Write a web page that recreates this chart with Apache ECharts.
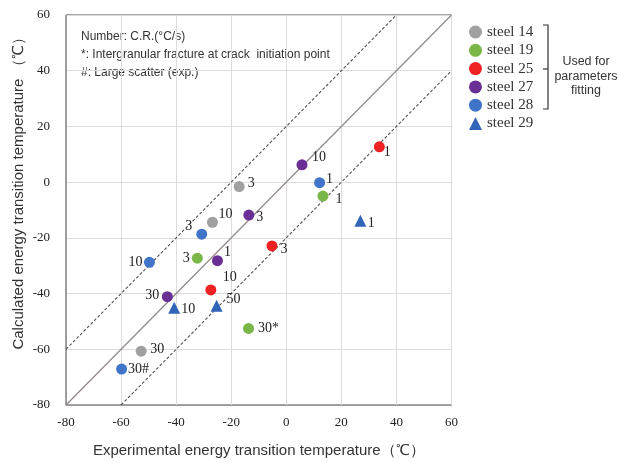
<!DOCTYPE html>
<html><head><meta charset="utf-8">
<script src="https://cdn.jsdelivr.net/npm/echarts@6/dist/echarts.min.js"></script>
<style>html,body{margin:0;padding:0;background:#fff}#c{width:619px;height:463px}</style>
</head><body><div id="c"></div>
<script>
const seriesNames = ['steel 14','steel 19','steel 25','steel 27','steel 28','steel 29'];
const xTicks = [-80,-60,-40,-20,0,20,40,60];
// [experimental, calculated, cooling-rate label]
const steel14 = [[-17.1,-1.6,'3'],[-26.8,-14.4,'10'],[-52.7,-60.7,'30']];
const steel19 = [[13.3,-5.0,'1'],[-32.3,-27.3,'3'],[-13.7,-52.5,'30*']];
const steel25 = [[33.8,12.7,'1'],[-5.2,-22.9,'3'],[-27.4,-38.7,'10']];
const steel27 = [[5.7,6.2,'10'],[-13.6,-11.8,'3'],[-25.0,-28.2,'1'],[-43.2,-41.1,'30']];
const steel28 = [[12.1,-0.2,'1'],[-30.7,-18.7,'3'],[-49.7,-28.8,'10'],[-59.8,-67.1,'30#']];
const steel29 = [[26.9,-13.9,'1'],[-40.7,-45.1,'10'],[-25.3,-44.4,'50']];
const lineEqual = [[-80,-80],[60,60]];
const lineUpper = [[-80,-60],[40,60]];
const lineLower = [[-60,-80],[60,40]];

// label placement (pixel offsets of label centre from the marker), styling only
const labelOffsets = [
  [[12,-3],[13,-8],[16,-2]],
  [[16,3],[-11,0],[20,0]],
  [[8,6],[12,3],[19,-13]],
  [[17,-8],[11,2],[10,-8],[-15,-1]],
  [[10,-3],[-13,-8],[-14,0],[17,0]],
  [[11,2],[14,2],[17,-7]]
];
const colors = ['#a0a0a0','#7ab648','#ee2222','#6a2f95','#3f74c8','#2f64b8'];
const symbols = ['circle','circle','circle','circle','circle','triangle'];
const allData = [steel14,steel19,steel25,steel27,steel28,steel29];

const chart = echarts.init(document.getElementById('c'));
const scatter = allData.map((d,i)=>({
  name: seriesNames[i], type:'scatter', symbol: symbols[i], symbolSize: i===5?12:11,
  itemStyle:{color:colors[i], opacity:1}, z:5,
  data: d.map((p,j)=>({value:[p[0],p[1]], label:{show:true, formatter:p[2], position:'inside',
    offset:labelOffsets[i][j], color:'#222', fontFamily:'Liberation Serif', fontSize:14}}))
}));
const refLine = (data, dashed) => ({type:'line', data, symbol:'none', silent:true, z:2,
  lineStyle:{color: dashed?'#5a4f4f':'#958a8a', width: dashed?1.1:1.3, type: dashed?[3,2]:'solid'}});

chart.setOption({
  animation:false,
  grid:{left:66, right:167.5, top:15, bottom:56.5, show:true, borderColor:'#444', borderWidth:1},
  legend:{data:seriesNames, orient:'vertical', left:464, top:19, itemGap:2.3, itemWidth:13, itemHeight:13,
    textStyle:{fontFamily:'Liberation Serif', fontSize:15, color:'#333', lineHeight:16}},
  xAxis:{type:'value', min:xTicks[0], max:xTicks[xTicks.length-1], interval:20,
    axisLine:{show:true, onZero:false, lineStyle:{color:'#999'}}, axisTick:{show:false},
    axisLabel:{fontFamily:'Liberation Serif', fontSize:13, color:'#222', margin:11},
    splitLine:{lineStyle:{color:'#dcdcdc'}},
    name:'Experimental energy transition temperature（℃）', nameLocation:'middle', nameGap:38,
    nameTextStyle:{fontFamily:'Liberation Sans', fontSize:15, color:'#333'}},
  yAxis:{type:'value', min:-80, max:60, interval:20,
    axisLine:{show:true, onZero:false, lineStyle:{color:'#999'}}, axisTick:{show:false},
    axisLabel:{fontFamily:'Liberation Serif', fontSize:13, color:'#222', margin:16},
    splitLine:{lineStyle:{color:'#dcdcdc'}}},
  graphic:[
    {type:'text', x:19, y:190, rotation:Math.PI/2, style:{text:'Calculated energy transition temperature （℃）',
      font:'15px "Liberation Sans"', fill:'#333', align:'center', verticalAlign:'middle'}},
    {type:'text', x:81, y:37, style:{text:'Number: C.R.(°C/s)', font:'12px "Liberation Sans"', fill:'#333', verticalAlign:'middle'}},
    {type:'text', x:81, y:55, style:{text:'*: Intergranular fracture at crack  initiation point', font:'12px "Liberation Sans"', fill:'#333', verticalAlign:'middle'}},
    {type:'text', x:81, y:73, style:{text:'#: Large scatter (exp.)', font:'12px "Liberation Sans"', fill:'#333', verticalAlign:'middle'}},
    {type:'polyline', shape:{points:[[543,25],[548,25],[548,109],[543,109]]}, style:{stroke:'#333', lineWidth:1.2, fill:null}},
    {type:'line', shape:{x1:543,y1:69,x2:548,y2:69}, style:{stroke:'#333', lineWidth:1.2}},
    {type:'text', x:586, y:62, style:{text:'Used for', font:'12.5px "Liberation Sans"', fill:'#333', align:'center', verticalAlign:'middle'}},
    {type:'text', x:586, y:77, style:{text:'parameters', font:'12.5px "Liberation Sans"', fill:'#333', align:'center', verticalAlign:'middle'}},
    {type:'text', x:586, y:91, style:{text:'fitting', font:'12.5px "Liberation Sans"', fill:'#333', align:'center', verticalAlign:'middle'}}
  ],
  series:[refLine(lineEqual,false), refLine(lineUpper,true), refLine(lineLower,true), ...scatter]
});
</script></body></html>
